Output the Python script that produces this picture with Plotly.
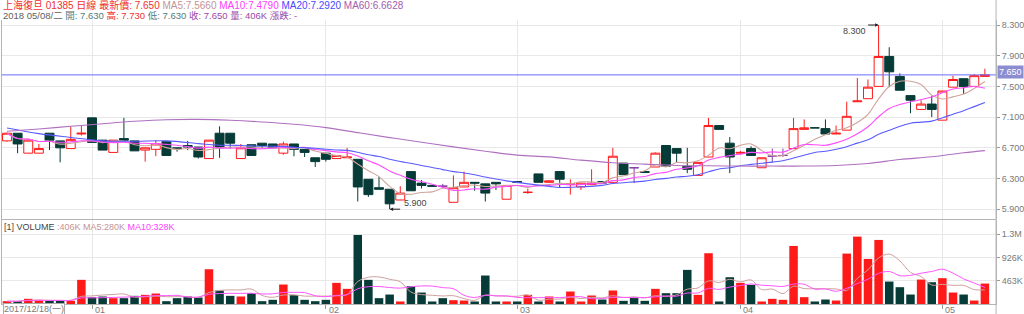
import plotly.graph_objects as go
import pandas as pd

# ---------------- data ----------------
opens = [6.79, 6.89, 6.63, 6.63, 6.89, 6.79, 6.69, 6.88, 7.09, 6.80,
         6.64, 6.82, 6.79, 6.67, 6.68, 6.78, 6.70, 6.73, 6.71, 6.56,
         6.89, 6.89, 6.56, 6.74, 6.76, 6.75, 6.63, 6.75, 6.68, 6.57,
         6.63, 6.56, 6.57, 6.55, 6.29, 6.18, 6.16, 6.02, 6.39, 6.24,
         6.21, 6.20, 5.99, 6.19, 6.25, 6.23, 6.25, 6.03, 6.26, 6.12,
         6.36, 6.25, 6.39, 6.22, 6.19, 6.22, 6.26, 6.25, 6.50, 6.44,
         6.39, 6.45, 6.73, 6.69, 6.46, 6.34, 6.58, 6.99, 6.76, 6.63,
         6.69, 6.44, 6.59, 6.60, 6.69, 6.94, 6.96, 6.95, 6.88, 6.93,
         7.30, 7.34, 7.50, 7.89, 7.63, 7.38, 7.20, 7.27, 7.06, 7.49,
         7.60, 7.50, 7.63]
highs = [6.90, 6.89, 6.80, 6.75, 6.89, 6.79, 6.98, 6.99, 7.09, 6.80,
         6.80, 7.09, 6.79, 6.70, 6.80, 6.78, 6.70, 6.79, 6.71, 6.80,
         6.98, 6.89, 6.75, 6.74, 6.76, 6.75, 6.78, 6.75, 6.68, 6.57,
         6.63, 6.60, 6.70, 6.55, 6.29, 6.32, 6.16, 6.20, 6.39, 6.28,
         6.21, 6.23, 6.34, 6.39, 6.25, 6.23, 6.25, 6.21, 6.26, 6.17,
         6.36, 6.27, 6.39, 6.29, 6.24, 6.42, 6.26, 6.70, 6.50, 6.45,
         6.39, 6.64, 6.73, 6.69, 6.70, 6.51, 7.09, 6.99, 6.84, 6.66,
         6.72, 6.57, 6.69, 6.69, 7.09, 7.07, 6.97, 7.07, 6.99, 7.30,
         7.61, 7.59, 8.30, 8.01, 7.67, 7.38, 7.32, 7.38, 7.44, 7.64,
         7.60, 7.66, 7.73]
lows = [6.78, 6.63, 6.63, 6.63, 6.67, 6.51, 6.69, 6.86, 6.77, 6.67,
        6.64, 6.80, 6.66, 6.52, 6.59, 6.60, 6.65, 6.67, 6.56, 6.56,
        6.57, 6.69, 6.56, 6.60, 6.69, 6.69, 6.61, 6.59, 6.58, 6.45,
        6.52, 6.56, 6.57, 6.00, 6.06, 6.16, 5.90, 6.02, 6.14, 6.17,
        6.19, 6.17, 5.99, 6.19, 6.14, 6.00, 6.15, 6.03, 6.24, 6.10,
        6.25, 6.25, 6.18, 6.09, 6.15, 6.22, 6.24, 6.25, 6.35, 6.24,
        6.38, 6.45, 6.46, 6.51, 6.37, 6.34, 6.58, 6.94, 6.37, 6.61,
        6.60, 6.44, 6.51, 6.58, 6.69, 6.94, 6.96, 6.88, 6.88, 6.93,
        7.30, 7.34, 7.50, 7.49, 7.45, 7.15, 7.20, 7.10, 7.06, 7.49,
        7.40, 7.50, 7.63]
closes = [6.89, 6.75, 6.80, 6.69, 6.80, 6.70, 6.81, 6.89, 6.77, 6.67,
          6.80, 6.80, 6.66, 6.70, 6.75, 6.60, 6.69, 6.71, 6.58, 6.80,
          6.70, 6.76, 6.70, 6.60, 6.73, 6.70, 6.75, 6.68, 6.64, 6.52,
          6.55, 6.60, 6.58, 6.19, 6.09, 6.16, 5.97, 6.11, 6.14, 6.21,
          6.20, 6.20, 6.18, 6.25, 6.24, 6.11, 6.23, 6.21, 6.25, 6.12,
          6.25, 6.27, 6.29, 6.23, 6.24, 6.24, 6.24, 6.59, 6.35, 6.44,
          6.38, 6.63, 6.46, 6.63, 6.42, 6.51, 6.99, 6.94, 6.58, 6.64,
          6.60, 6.57, 6.59, 6.60, 6.95, 6.96, 6.96, 6.88, 6.89, 7.11,
          7.31, 7.49, 7.89, 7.69, 7.45, 7.32, 7.27, 7.20, 7.44, 7.59,
          7.50, 7.64, 7.65]
# candle style: u = red hollow, d = dark filled, p = purple (unchanged)
candle_kind = ("uduudduudd" "udduuddddu" "dduddduddd" "duuddddudd" "dpuudddudu"
               "duduuududp" "duddduuddu" "duppuudduu" "uuuddduduu" "duu")
# volumes in thousands
volumes_k = [56, 56, 103, 83, 63, 63, 63, 480, 136, 149,
             116, 116, 162, 182, 208, 56, 116, 149, 129, 691,
             268, 162, 149, 215, 56, 83, 387, 175, 83, 56,
             83, 420, 301, 1372, 480, 116, 188, 50, 354, 228,
             50, 116, 76, 69, 50, 566, 50, 50, 50, 182,
             50, 149, 50, 248, 50, 169, 89, 268, 63, 122,
             63, 301, 215, 215, 678, 182, 1009, 50, 532, 420,
             380, 50, 103, 83, 1154, 136, 50, 89, 69, 1002,
             1339, 896, 1273, 446, 334, 188, 486, 433, 513, 228,
             188, 69, 406]
volume_kind = ("uduudduudd" "udduuddddu" "dduddduddd" "duuddddudd" "dduudddudu"
               "duduuududd" "duddduuddu" "duuuuudduu" "uuuddduduu" "duu")

# MA20 before a full 20-day window exists, and MA60
ma20_lead_idx = [0, 3, 6, 9, 12, 15, 18]
ma20_lead = [6.958, 6.885, 6.835, 6.79, 6.785, 6.79, 6.755]
ma60_idx = list(range(0, 91, 3)) + [92]
ma60_vals = [6.915, 6.945, 6.98, 7.014, 7.045, 7.066, 7.07, 7.058, 7.036, 7.006,
             6.963, 6.898, 6.833, 6.773, 6.712, 6.656, 6.604, 6.582, 6.539, 6.505,
             6.487, 6.47, 6.466, 6.462, 6.462, 6.462, 6.47, 6.496, 6.548, 6.583,
             6.635, 6.663]

month_idx = [8, 30, 48, 69, 88]
month_labels = ["01", "02", "03", "04", "05"]
first_date_label = "2017/12/18(一)"
price_ticks = [5.9, 6.3, 6.7, 7.1, 7.5, 7.9, 8.3]
vol_ticks = [463000, 926000, 1389000]
vol_tick_labels = ["463K", "926K", "1.3M"]

header1 = [("上海復旦 01385 日線 最新價: 7.650", "#f03030"), ("MA5:7.5660", "#c49494"),
           ("MA10:7.4790", "#ff40ff"), ("MA20:7.2920", "#4848ff"), ("MA60:6.6628", "#a45cae")]
header2 = [("2018 05/08/二", "#606060"), ("開: 7.630", "#4f7b7b"), ("高: 7.730", "#f03030"),
           ("低: 7.630", "#4f7b7b"), ("收: 7.650", "#9a4aa8"), ("量: 406K", "#9a4aa8"),
           ("漲跌: -", "#9a4aa8")]
vol_header = [("[1] VOLUME", "#444444"), (":406K MA5:280K", "#c49494"), ("MA10:328K", "#ff40ff")]

# ---------------- styling ----------------
W, H = 1024, 314
FONT = "Liberation Sans, Arial, Noto Sans CJK TC, sans-serif"
RED = "#ff1a1a"
DARK = "#063b37"
PURPLE = "#8a3fa8"
GRID = "#e8e8e8"
AXIS = "#b4b4b4"
TXT = "#7a7a7a"


def py(px):
    return 1 - px / H


def pxx(px):
    return px / W


n = len(closes)
idx = list(range(n))
c = pd.Series(closes)
ma5 = c.rolling(5, min_periods=1).mean()
ma10 = c.rolling(10, min_periods=1).mean()
ma20_full = c.rolling(20).mean()
ma20_x = ma20_lead_idx + list(range(19, n))
ma20_y = ma20_lead + list(ma20_full[19:])
vols = [v * 1000 for v in volumes_k]
vs = pd.Series(vols)
vma5 = vs.rolling(5, min_periods=1).mean()
vma10 = vs.rolling(10, min_periods=1).mean()

fig = go.Figure()

styles = {"u": (RED, "white"), "d": (DARK, DARK), "p": (PURPLE, PURPLE)}
for k, (lc, fc) in styles.items():
    sel = [i for i in idx if candle_kind[i] == k]
    fig.add_trace(go.Candlestick(
        x=sel, open=[opens[i] for i in sel], high=[highs[i] for i in sel],
        low=[lows[i] for i in sel], close=[closes[i] for i in sel],
        increasing=dict(line=dict(color=lc, width=1), fillcolor=fc),
        decreasing=dict(line=dict(color=lc, width=1), fillcolor=fc),
        whiskerwidth=0, hoverinfo="skip", xaxis="x", yaxis="y"))

for xs, ys, col in [(idx, list(ma5), "#cfa49c"),
                    (idx, list(ma10), "#ff4dff"),
                    (ma20_x, ma20_y, "#5a5aff"),
                    (ma60_idx, ma60_vals, "#b070c0")]:
    fig.add_trace(go.Scatter(x=xs, y=ys, mode="lines", line=dict(color=col, width=1.1, shape="spline"),
                             hoverinfo="skip", xaxis="x", yaxis="y"))

fig.add_trace(go.Bar(x=idx, y=vols, width=0.8,
                     marker=dict(color=[RED if volume_kind[i] == "u" else DARK for i in idx],
                                 line=dict(width=0)),
                     hoverinfo="skip", xaxis="x2", yaxis="y2"))
fig.add_trace(go.Scatter(x=idx, y=list(vma5), mode="lines", line=dict(color="#d0a0a0", width=1, shape="spline"),
                         hoverinfo="skip", xaxis="x2", yaxis="y2"))
fig.add_trace(go.Scatter(x=idx, y=list(vma10), mode="lines", line=dict(color="#ff55ff", width=1, shape="spline"),
                         hoverinfo="skip", xaxis="x2", yaxis="y2"))

# axes geometry (pixel anchors)
x_lo = -0.563
x_hi = 93.05
p_per_px = 0.4 / 30.7
p_top = 8.3 + 5 * p_per_px
p_bot = 8.3 - 194 * p_per_px
v_per_px = 463000 / 23.3
v_top = (304 - 220) * v_per_px

xcommon = dict(range=[x_lo, x_hi], domain=[pxx(1), pxx(998)], tickvals=month_idx,
               showticklabels=False, showgrid=True, gridcolor=GRID, zeroline=False, fixedrange=True)

fig.update_layout(
    width=W, height=H, margin=dict(l=0, r=0, t=0, b=0),
    paper_bgcolor="white", plot_bgcolor="white", showlegend=False,
    font=dict(family=FONT, size=9, color=TXT),
    boxgap=0.16, boxgroupgap=0, bargap=0.2,
    xaxis=dict(anchor="y", rangeslider=dict(visible=False), ticks="", **xcommon),
    xaxis2=dict(anchor="y2", matches="x", ticks="outside", ticklen=4, tickcolor="#999",
                showline=True, linecolor=AXIS, **xcommon),
    yaxis=dict(domain=[py(219), py(20)], range=[p_bot, p_top], side="right", anchor="x",
               tickvals=price_ticks, ticktext=[f"{t:.3f}" for t in price_ticks],
               ticks="outside", ticklen=3, tickcolor="#999", tickfont=dict(size=9, color=TXT),
               showgrid=True, gridcolor=GRID, zeroline=False, showline=True, linecolor=AXIS),
    yaxis2=dict(domain=[py(304), py(220)], range=[0, v_top], side="right", anchor="x2",
                tickvals=vol_ticks, ticktext=vol_tick_labels,
                ticks="outside", ticklen=3, tickcolor="#999", tickfont=dict(size=9, color=TXT),
                showgrid=True, gridcolor=GRID, zeroline=False, showline=True, linecolor=AXIS),
)

shapes = [
    dict(type="line", xref="paper", yref="y", x0=pxx(1), x1=pxx(998), y0=closes[-1], y1=closes[-1],
         line=dict(color="#6b6bff", width=1)),
    dict(type="line", xref="paper", yref="paper", x0=pxx(998), x1=pxx(998), y0=0, y1=1,
         line=dict(color=AXIS, width=1)),
    dict(type="line", xref="paper", yref="paper", x0=pxx(1.5), x1=pxx(1.5), y0=py(304), y1=py(20),
         line=dict(color=AXIS, width=1)),
    dict(type="line", xref="paper", yref="paper", x0=pxx(1), x1=pxx(998), y0=py(219.5), y1=py(219.5),
         line=dict(color=AXIS, width=1)),
]
fig.update_layout(shapes=shapes)


def spans(parts):
    return " ".join(f'<span style="color:{col}">{t}</span>' for t, col in parts)


ann = [
    dict(x=pxx(1), y=py(5), xref="paper", yref="paper", xanchor="left", yanchor="middle",
         text=spans(header1), showarrow=False, font=dict(size=10)),
    dict(x=pxx(1), y=py(15.5), xref="paper", yref="paper", xanchor="left", yanchor="middle",
         text=spans(header2), showarrow=False, font=dict(size=9.5)),
    dict(x=pxx(2), y=py(227), xref="paper", yref="paper", xanchor="left", yanchor="middle",
         text=spans(vol_header), showarrow=False, font=dict(size=9)),
    dict(x=pxx(999), y=closes[-1], xref="paper", yref="y", xanchor="left", yanchor="middle",
         text=f"{closes[-1]:.3f}", showarrow=False, bgcolor="#8c8cd0", font=dict(size=9, color="white"),
         borderpad=1, yshift=3),
    dict(x=pxx(3), y=py(309), xref="paper", yref="paper", xanchor="left", yanchor="middle",
         text=first_date_label, showarrow=False, font=dict(size=9, color=TXT),
         bordercolor="#aaaaaa", borderwidth=1, borderpad=0, bgcolor="white"),
]
for mi, ml in zip(month_idx, month_labels):
    ann.append(dict(x=mi, y=py(309.5), xref="x2", yref="paper", xanchor="left", yanchor="middle",
                    text=ml, showarrow=False, xshift=1, font=dict(size=9, color=TXT)))

hi_i = highs.index(max(highs))
lo_i = lows.index(min(lows))
ann += [
    dict(x=hi_i, y=highs[hi_i], xref="x", yref="y", text="", showarrow=True, ax=-12, ay=0,
         arrowhead=2, arrowsize=0.7, arrowwidth=1, arrowcolor="#222", standoff=0),
    dict(x=hi_i, y=highs[hi_i], xref="x", yref="y", text=f"{highs[hi_i]:.3f}", showarrow=False,
         xanchor="right", yanchor="middle", xshift=-11, yshift=-6, font=dict(size=9, color="#444")),
    dict(x=lo_i, y=lows[lo_i], xref="x", yref="y", text="", showarrow=True, ax=12, ay=0,
         arrowhead=2, arrowsize=0.7, arrowwidth=1, arrowcolor="#222", standoff=0),
    dict(x=lo_i, y=lows[lo_i], xref="x", yref="y", text=f"{lows[lo_i]:.3f}", showarrow=False,
         xanchor="left", yanchor="middle", xshift=12, yshift=6, font=dict(size=9, color="#444")),
]
fig.update_layout(annotations=ann)

fig.write_html("out.html")
